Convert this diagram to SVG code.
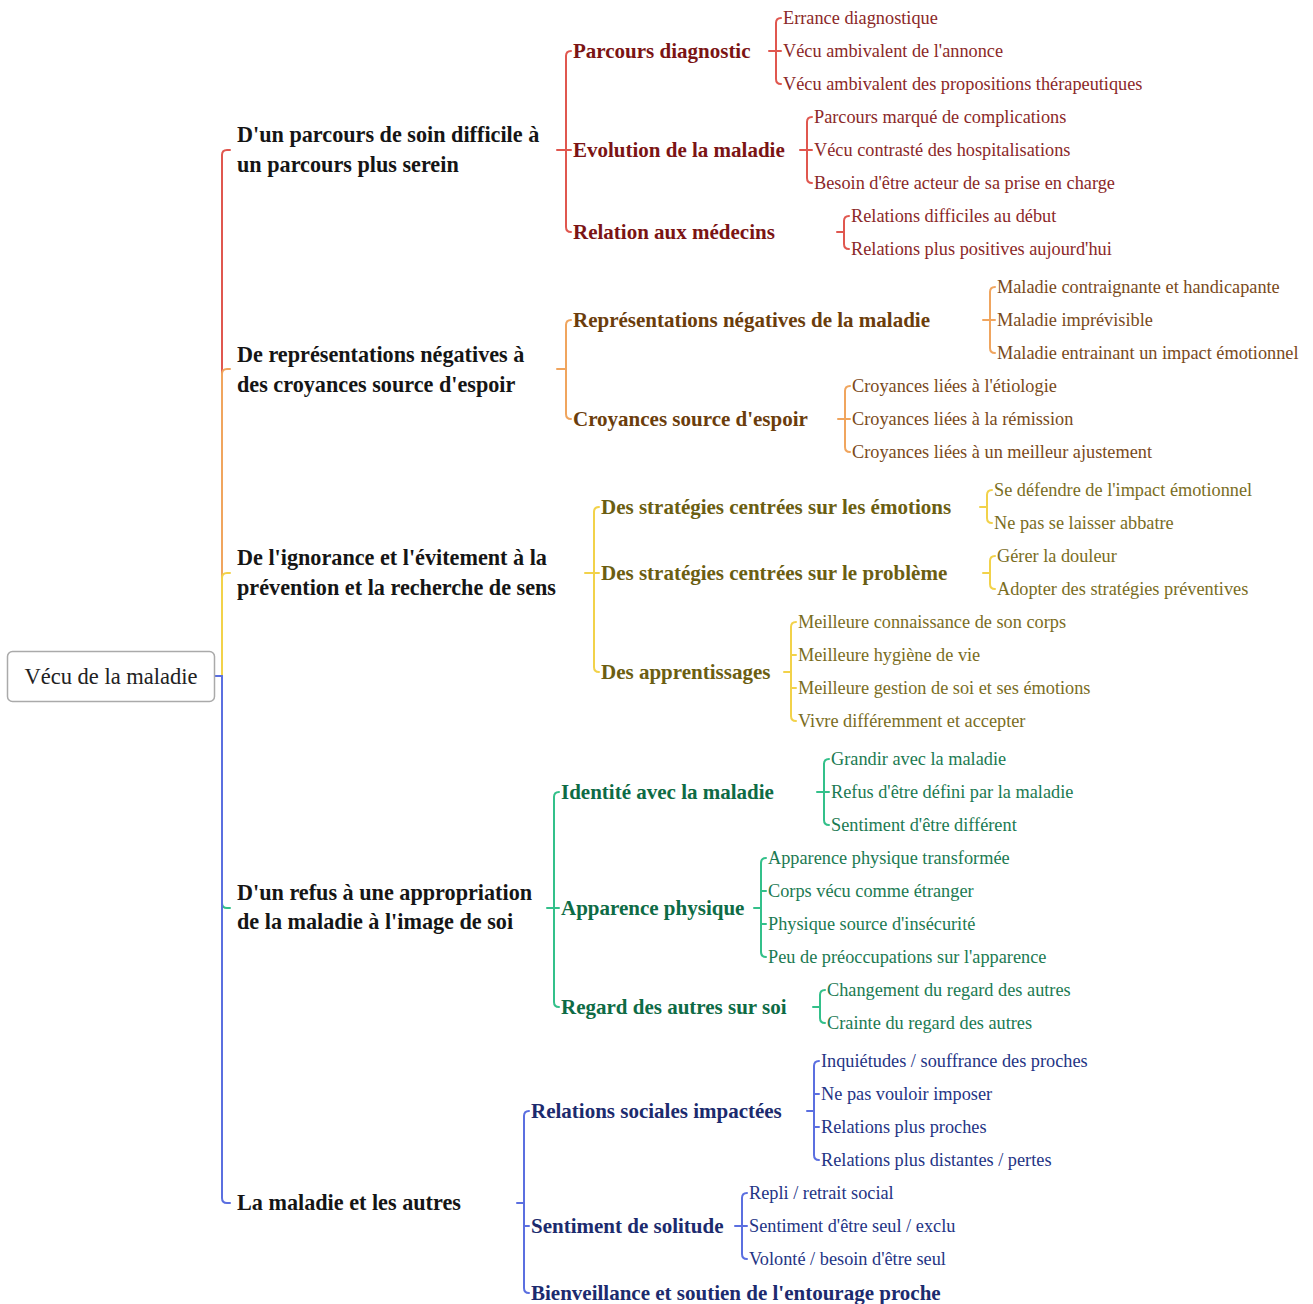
<svg xmlns="http://www.w3.org/2000/svg" width="1313" height="1304" viewBox="0 0 1313 1304">
<style>
text{font-family:"Liberation Serif","DejaVu Serif",serif;}
.root{font-family:"Liberation Serif","DejaVu Serif",serif;font-size:22.5px;fill:#222;text-anchor:middle;}
.l1{font-size:22.2px;font-weight:bold;fill:#151515;}
.l2{font-size:21px;font-weight:bold;}
.lf{font-size:18.3px;}
path{fill:none;stroke-width:2;stroke-linecap:round;stroke-linejoin:round;}
.cR{stroke:#e0574f;}.cO{stroke:#f0a55e;}.cY{stroke:#f2d24a;}.cG{stroke:#33c08a;}.cB{stroke:#5b6fe0;}
.tR2{fill:#7b1414;}.tR{fill:#8b2828;}
.tO2{fill:#6b3d0c;}.tO{fill:#7a4a1a;}
.tY2{fill:#6b5e12;}.tY{fill:#7a6d1e;}
.tG2{fill:#0e6b45;}.tG{fill:#1b7a52;}
.tB2{fill:#1c2b6e;}.tB{fill:#243485;}
</style>
<rect width="1313" height="1304" fill="#ffffff"/>
<g id="connectors">
<path class="cR" d="M222 676 V155 Q222 150 227 150 H230"/>
<path class="cO" d="M222 676 V374 Q222 369 227 369 H230"/>
<path class="cY" d="M222 676 V578 Q222 573 227 573 H230"/>
<path class="cG" d="M222 676 V903 Q222 908 227 908 H230"/>
<path class="cB" d="M215 676 H222 V1198 Q222 1203 227 1203 H230"/>
<path class="cR" d="M557 150 H571 M571 51 Q566 51 566 56 V227 Q566 232 571 232"/>
<path class="cR" d="M769 51 H781 M781 18 Q776 18 776 23 V79 Q776 84 781 84"/>
<path class="cR" d="M800 150 H812 M812 117 Q807 117 807 122 V178 Q807 183 812 183"/>
<path class="cR" d="M837 232 H844 M849 216 Q844 216 844 221 V244 Q844 249 849 249"/>
<path class="cO" d="M557 369 H566 M571 320 Q566 320 566 325 V414 Q566 419 571 419"/>
<path class="cO" d="M983 320 H995 M995 287 Q990 287 990 292 V348 Q990 353 995 353"/>
<path class="cO" d="M838 419 H850 M850 386 Q845 386 845 391 V447 Q845 452 850 452"/>
<path class="cY" d="M585 573 H599 M599 507 Q594 507 594 512 V667 Q594 672 599 672"/>
<path class="cY" d="M980 507 H987 M992 490 Q987 490 987 495 V518 Q987 523 992 523"/>
<path class="cY" d="M983 573 H990 M995 556 Q990 556 990 561 V584 Q990 589 995 589"/>
<path class="cY" d="M784 672 H791 M796 622 Q791 622 791 627 V716 Q791 721 796 721 M791 655 H796 M791 688 H796"/>
<path class="cG" d="M547 908 H559 M559 792 Q554 792 554 797 V1002 Q554 1007 559 1007"/>
<path class="cG" d="M817 792 H829 M829 759 Q824 759 824 764 V820 Q824 825 829 825"/>
<path class="cG" d="M754 908 H761 M766 858 Q761 858 761 863 V952 Q761 957 766 957 M761 891 H766 M761 924 H766"/>
<path class="cG" d="M813 1007 H820 M825 990 Q820 990 820 995 V1018 Q820 1023 825 1023"/>
<path class="cB" d="M517 1203 H524 M529 1111 Q524 1111 524 1116 V1288 Q524 1293 529 1293 M524 1226 H529"/>
<path class="cB" d="M807 1111 H814 M819 1061 Q814 1061 814 1066 V1155 Q814 1160 819 1160 M814 1094 H819 M814 1127 H819"/>
<path class="cB" d="M735 1226 H747 M747 1193 Q742 1193 742 1198 V1254 Q742 1259 747 1259"/>
</g>
<g id="root">
<rect x="7.5" y="651.5" width="207" height="50" rx="5" fill="#fff" stroke="#aaaaaa" stroke-width="1.5"/>
<text class="root" x="111" y="684">Vécu de la maladie</text>
</g>
<g id="n1"><text class="l1" x="237" y="142">D'un parcours de soin difficile à</text><text class="l1" x="237" y="172">un parcours plus serein</text></g>
<g id="n2"><text class="l1" x="237" y="362">De représentations négatives à</text><text class="l1" x="237" y="392">des croyances source d'espoir</text></g>
<g id="n3"><text class="l1" x="237" y="565">De l'ignorance et l'évitement à la</text><text class="l1" x="237" y="595">prévention et la recherche de sens</text></g>
<g id="n4"><text class="l1" x="237" y="900">D'un refus à une appropriation</text><text class="l1" x="237" y="929">de la maladie à l'image de soi</text></g>
<g id="n5"><text class="l1" x="237" y="1210">La maladie et les autres</text></g>

<g id="n1a"><text class="l2 tR2" x="573" y="58">Parcours diagnostic</text></g>
<g id="n1a1"><text class="lf tR" x="783" y="24">Errance diagnostique</text></g>
<g id="n1a2"><text class="lf tR" x="783" y="57">Vécu ambivalent de l'annonce</text></g>
<g id="n1a3"><text class="lf tR" x="783" y="90">Vécu ambivalent des propositions thérapeutiques</text></g>
<g id="n1b"><text class="l2 tR2" x="573" y="157">Evolution de la maladie</text></g>
<g id="n1b1"><text class="lf tR" x="814" y="123">Parcours marqué de complications</text></g>
<g id="n1b2"><text class="lf tR" x="814" y="156">Vécu contrasté des hospitalisations</text></g>
<g id="n1b3"><text class="lf tR" x="814" y="189">Besoin d'être acteur de sa prise en charge</text></g>
<g id="n1c"><text class="l2 tR2" x="573" y="239">Relation aux médecins</text></g>
<g id="n1c1"><text class="lf tR" x="851" y="222">Relations difficiles au début</text></g>
<g id="n1c2"><text class="lf tR" x="851" y="255">Relations plus positives aujourd'hui</text></g>

<g id="n2a"><text class="l2 tO2" x="573" y="327">Représentations négatives de la maladie</text></g>
<g id="n2a1"><text class="lf tO" x="997" y="293">Maladie contraignante et handicapante</text></g>
<g id="n2a2"><text class="lf tO" x="997" y="326">Maladie imprévisible</text></g>
<g id="n2a3"><text class="lf tO" x="997" y="359">Maladie entrainant un impact émotionnel</text></g>
<g id="n2b"><text class="l2 tO2" x="573" y="426">Croyances source d'espoir</text></g>
<g id="n2b1"><text class="lf tO" x="852" y="392">Croyances liées à l'étiologie</text></g>
<g id="n2b2"><text class="lf tO" x="852" y="425">Croyances liées à la rémission</text></g>
<g id="n2b3"><text class="lf tO" x="852" y="458">Croyances liées à un meilleur ajustement</text></g>

<g id="n3a"><text class="l2 tY2" x="601" y="514">Des stratégies centrées sur les émotions</text></g>
<g id="n3a1"><text class="lf tY" x="994" y="496">Se défendre de l'impact émotionnel</text></g>
<g id="n3a2"><text class="lf tY" x="994" y="529">Ne pas se laisser abbatre</text></g>
<g id="n3b"><text class="l2 tY2" x="601" y="580">Des stratégies centrées sur le problème</text></g>
<g id="n3b1"><text class="lf tY" x="997" y="562">Gérer la douleur</text></g>
<g id="n3b2"><text class="lf tY" x="997" y="595">Adopter des stratégies préventives</text></g>
<g id="n3c"><text class="l2 tY2" x="601" y="679">Des apprentissages</text></g>
<g id="n3c1"><text class="lf tY" x="798" y="628">Meilleure connaissance de son corps</text></g>
<g id="n3c2"><text class="lf tY" x="798" y="661">Meilleure hygiène de vie</text></g>
<g id="n3c3"><text class="lf tY" x="798" y="694">Meilleure gestion de soi et ses émotions</text></g>
<g id="n3c4"><text class="lf tY" x="798" y="727">Vivre différemment et accepter</text></g>

<g id="n4a"><text class="l2 tG2" x="561" y="799">Identité avec la maladie</text></g>
<g id="n4a1"><text class="lf tG" x="831" y="765">Grandir avec la maladie</text></g>
<g id="n4a2"><text class="lf tG" x="831" y="798">Refus d'être défini par la maladie</text></g>
<g id="n4a3"><text class="lf tG" x="831" y="831">Sentiment d'être différent</text></g>
<g id="n4b"><text class="l2 tG2" x="561" y="915">Apparence physique</text></g>
<g id="n4b1"><text class="lf tG" x="768" y="864">Apparence physique transformée</text></g>
<g id="n4b2"><text class="lf tG" x="768" y="897">Corps vécu comme étranger</text></g>
<g id="n4b3"><text class="lf tG" x="768" y="930">Physique source d'insécurité</text></g>
<g id="n4b4"><text class="lf tG" x="768" y="963">Peu de préoccupations sur l'apparence</text></g>
<g id="n4c"><text class="l2 tG2" x="561" y="1014">Regard des autres sur soi</text></g>
<g id="n4c1"><text class="lf tG" x="827" y="996">Changement du regard des autres</text></g>
<g id="n4c2"><text class="lf tG" x="827" y="1029">Crainte du regard des autres</text></g>

<g id="n5a"><text class="l2 tB2" x="531" y="1118">Relations sociales impactées</text></g>
<g id="n5a1"><text class="lf tB" x="821" y="1067">Inquiétudes / souffrance des proches</text></g>
<g id="n5a2"><text class="lf tB" x="821" y="1100">Ne pas vouloir imposer</text></g>
<g id="n5a3"><text class="lf tB" x="821" y="1133">Relations plus proches</text></g>
<g id="n5a4"><text class="lf tB" x="821" y="1166">Relations plus distantes / pertes</text></g>
<g id="n5b"><text class="l2 tB2" x="531" y="1233">Sentiment de solitude</text></g>
<g id="n5b1"><text class="lf tB" x="749" y="1199">Repli / retrait social</text></g>
<g id="n5b2"><text class="lf tB" x="749" y="1232">Sentiment d'être seul / exclu</text></g>
<g id="n5b3"><text class="lf tB" x="749" y="1265">Volonté / besoin d'être seul</text></g>
<g id="n5c"><text class="l2 tB2" x="531" y="1300">Bienveillance et soutien de l'entourage proche</text></g>
</svg>
